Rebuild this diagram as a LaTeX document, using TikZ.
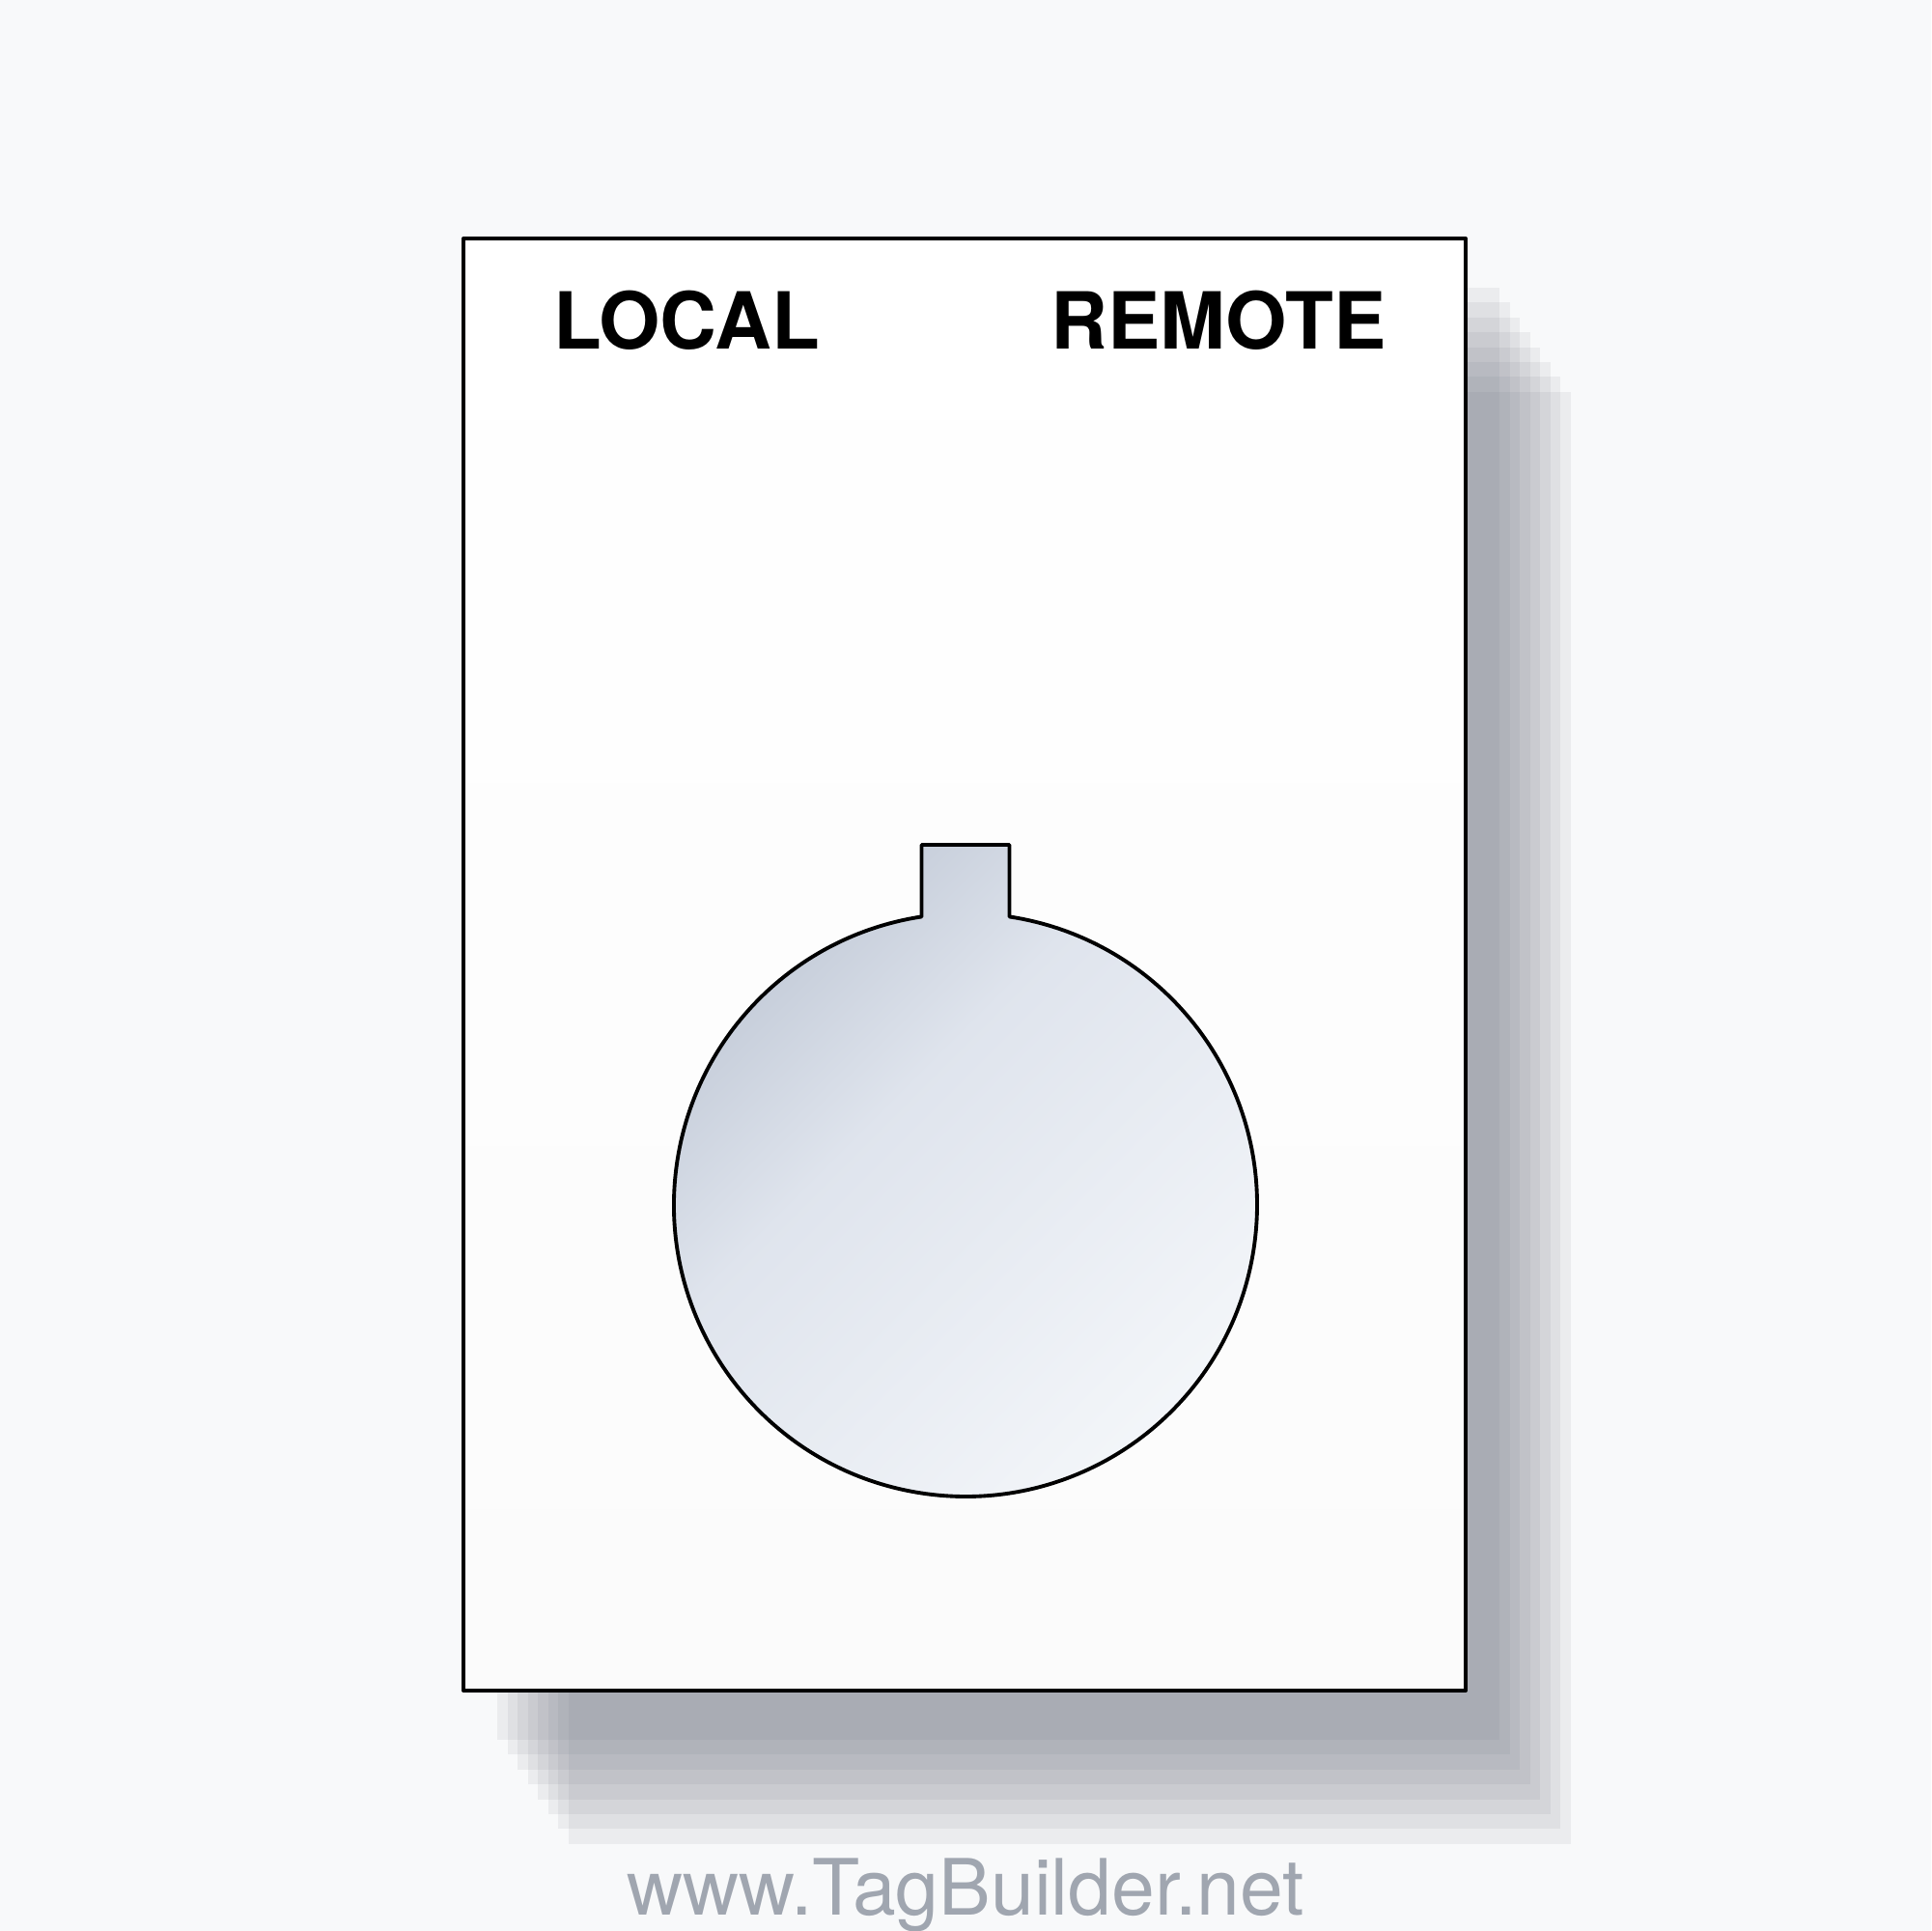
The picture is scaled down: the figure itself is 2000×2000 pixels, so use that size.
\documentclass[tikz,border=0pt]{standalone}
\usepackage{fontspec}
\setmainfont{TeX Gyre Heros}
\definecolor{pagebg}{RGB}{248,249,250}
\definecolor{shadowc}{RGB}{100,105,120}
\definecolor{webgray}{RGB}{160,166,176}
\definecolor{cardbot}{RGB}{251,251,251}
\pgfdeclarehorizontalshading{knobshade}{100bp}{%
  rgb(0bp)=(0.76,0.79,0.84);
  rgb(27bp)=(0.77,0.80,0.85);
  rgb(42bp)=(0.875,0.895,0.93);
  rgb(75bp)=(0.955,0.965,0.978);
  rgb(100bp)=(0.955,0.965,0.978)}
\tikzset{
  tagline/.style={line width=1.1pt, line join=round},
  shadowbox/.style={fill=shadowc, fill opacity=0.085, draw=none},
  legend/.style={font=\bfseries\fontsize{23.2}{26}\selectfont, anchor=base},
}
\begin{document}
\begin{tikzpicture}[x=0.1mm,y=0.1mm]
\fill[pagebg] (0,0) rectangle (2000,2000);
\useasboundingbox (0,0) rectangle (2000,2000);
% shadow behind the tag
\foreach \k in {0,...,7}
  \fill[shadowbox] ({515+10.5*\k},{198-15.4*\k}) rectangle ({1553+10.5*\k},{1702-15.4*\k});
% tag plate
\draw[tagline, top color=white, bottom color=cardbot] (480,249) rectangle (1518,1753);
\node[legend] (local) at (711,1638) {LOCAL};
\node[legend] (remote) at (1262,1638) {REMOTE};
% knob hole with key tab
\coordinate (knob) at (1000,752);
\draw[tagline, shading=knobshade, shading angle=-45]
  (954.5,1125) -- (1045.5,1125) -- (1045.5,1050.55)
  arc[start angle=81.33, end angle=-261.33, radius=302] -- cycle;
\node[font=\fontsize{22.9}{24}\selectfont, text=webgray, anchor=base] (site) at (1000,16) {www.TagBuilder.net};
\end{tikzpicture}
\end{document}
